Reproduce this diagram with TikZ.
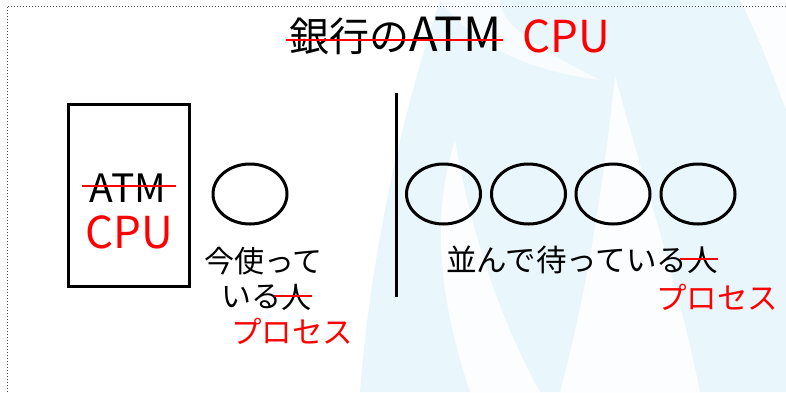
\documentclass[tikz,border=0pt]{standalone}
\usepackage{fontspec}
\setmainfont{Noto Sans CJK JP}
\definecolor{wm}{RGB}{233,246,252}
\definecolor{strk}{RGB}{255,0,0}
\tikzset{
  x=1pt, y=-1pt,
  txt/.style={inner sep=0pt, anchor=west, text=black},
  red text/.style={inner sep=0pt, anchor=west, text=strk},
  strike/.style={draw=strk, line width=2.8pt},
  person/.style={draw=black, line width=3pt, ellipse, minimum width=74pt, minimum height=60pt, inner sep=0pt},
  atmbox/.style={draw=black, line width=3pt, minimum width=121pt, minimum height=182pt, inner sep=0pt},
  frame/.style={draw=black!70, line width=1pt, dotted},
}
\usetikzlibrary{shapes.geometric}
\begin{document}
\begin{tikzpicture}
\useasboundingbox (0,0) rectangle (786,392);
% watermark background
\fill[wm] (440,0) .. controls (400,120) and (370,260) .. (360,392) -- (786,392) -- (786,0) -- cycle;
\fill[white,opacity=0.85] (470,392) .. controls (440,300) and (430,220) .. (455,140) .. controls (470,230) and (500,320) .. (540,392) -- cycle;
\fill[white,opacity=0.85] (560,392) .. controls (590,280) and (605,170) .. (615,75) .. controls (640,170) and (680,290) .. (700,392) -- cycle;
\fill[white,opacity=0.85] (786,0) -- (740,0) .. controls (760,40) and (775,80) .. (786,110) -- cycle;
\fill[white,opacity=0.7] (440,0) .. controls (470,40) and (520,70) .. (600,80) .. controls (540,50) and (500,25) .. (500,0) -- cycle;
% dotted frame
\coordinate (fr1) at (7,392);
\coordinate (fr2) at (7,6);
\coordinate (fr3) at (786,6);
\draw[frame] (fr1) -- (fr2) -- (fr3);
% title
\node[txt, font=\fontsize{40}{42}\selectfont] (title) at (289,36) {銀行の\fontsize{47}{48}\selectfont ATM};
\draw[strike] ([xshift=-3pt,yshift=-4pt]title.west) -- ([xshift=2pt,yshift=-4pt]title.east);
\node[red text, font=\fontsize{44}{46}\selectfont] (titlecpu) at (522,36) {CPU};
% ATM box
\node[atmbox] (atm) at (128.5,195) {};
\node[inner sep=0pt, text height=29pt, text depth=0pt, font=\fontsize{39}{41}\selectfont] (atmtxt) at (128,188) {ATM};
\draw[strike] ([xshift=-8pt,yshift=2pt]atmtxt.west) -- ([xshift=10pt,yshift=2pt]atmtxt.east);
\node[inner sep=0pt, text height=32pt, text depth=0pt, text=strk, font=\fontsize{44}{46}\selectfont] (atmcpu) at (129,232) {CPU};
% current person
\node[person] (p0) at (250,194) {};
\node[txt, font=\fontsize{30}{32}\selectfont] (now1) at (204,261) {今使って};
\node[txt, font=\fontsize{30}{32}\selectfont] (now2) at (221,297) {いる};
\node[txt, font=\fontsize{30}{32}\selectfont, anchor=west] (jin1) at (now2.east) {人};
\draw[strike] ([xshift=-7pt,yshift=1pt]jin1.west) -- ([yshift=1pt]jin1.east);
\node[red text, font=\fontsize{30.5}{32}\selectfont] (proc1) at (231,331) {プロセス};
% separator
\coordinate (sepT) at (396,93);
\coordinate (sepB) at (396,297);
\draw[line width=3pt] (sepT) -- (sepB);
% waiting people
\node[person] (p1) at (443.5,194) {};
\node[person] (p2) at (528.5,194) {};
\node[person] (p3) at (613,194) {};
\node[person] (p4) at (698,194) {};
\node[txt, font=\fontsize{30.5}{32}\selectfont] (wait) at (446,260) {並んで待っている};
\node[txt, font=\fontsize{30.5}{32}\selectfont, anchor=west] (jin2) at (wait.east) {人};
\draw[strike] ([xshift=-7pt,yshift=1pt]jin2.west) -- ([yshift=1pt]jin2.east);
\node[red text, font=\fontsize{30.5}{32}\selectfont] (proc2) at (656,297) {プロセス};
\end{tikzpicture}
\end{document}
